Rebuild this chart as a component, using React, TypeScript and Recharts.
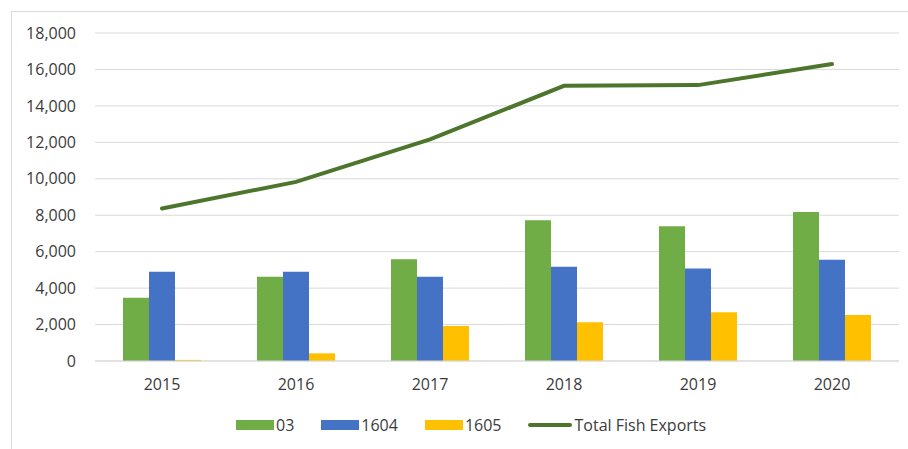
import {ComposedChart, Bar, Line, XAxis, YAxis, CartesianGrid, Legend} from 'recharts';

const years = ['2015', '2016', '2017', '2018', '2019', '2020'];
const chapter03 = [3470, 4630, 5580, 7730, 7400, 8180];
const heading1604 = [4900, 4900, 4630, 5170, 5080, 5560];
const heading1605 = [60, 420, 1920, 2120, 2670, 2520];
const totalFishExports = [8370, 9830, 12160, 15100, 15140, 16300];
const yTicks = [0, 2000, 4000, 6000, 8000, 10000, 12000, 14000, 16000, 18000];

const FONT = '"Open Sans", sans-serif';
const TEXT = '#3b3b3b';

const data = years.map((year, i) => ({
  year,
  c03: chapter03[i],
  h1604: heading1604[i],
  h1605: heading1605[i],
  total: totalFishExports[i],
}));

function LegendRow({payload}: any) {
  return (
    <div style={{display: 'flex', alignItems: 'center', paddingLeft: 236, fontFamily: FONT, fontSize: 16, color: TEXT}}>
      {(payload || []).map((entry: any) => (
        <div key={entry.value} style={{display: 'flex', alignItems: 'center', marginRight: 27}}>
          {entry.type === 'line' ? (
            <span style={{display: 'inline-block', width: 44, height: 4, borderRadius: 2, background: entry.color}} />
          ) : (
            <span style={{display: 'inline-block', width: 38, height: 10, background: entry.color}} />
          )}
          <span style={{marginLeft: 2}}>{entry.value}</span>
        </div>
      ))}
    </div>
  );
}

export default function App() {
  return (
    <div style={{position: 'fixed', left: 0, top: 0, width: 908, height: 449, background: '#fff'}}>
      <div
        style={{
          position: 'absolute',
          left: 11,
          top: 11,
          right: 0,
          bottom: 0,
          borderTop: '1px solid #d9d9d9',
          borderLeft: '1px solid #d9d9d9',
        }}
      />
      <ComposedChart
        width={908}
        height={449}
        data={data}
        margin={{top: 33, right: 9, bottom: 58, left: 0}}
        barGap={0}
        style={{position: 'absolute', left: 0, top: 0}}
      >
        <CartesianGrid vertical={false} stroke="#d9d9d9" />
        <XAxis
          dataKey="year"
          axisLine={{stroke: '#d9d9d9'}}
          tickLine={false}
          tickSize={0}
          tickMargin={18}
          height={30}
          tick={{fill: TEXT, fontSize: 16, fontFamily: FONT}}
        />
        <YAxis
          width={95}
          domain={[0, 18000]}
          ticks={yTicks}
          axisLine={false}
          tickLine={false}
          tickSize={0}
          tickMargin={19}
          tickFormatter={(v: number) => v.toLocaleString('en-US')}
          tick={{fill: TEXT, fontSize: 16, fontFamily: FONT}}
        />
        <Legend
          layout="vertical"
          align="center"
          verticalAlign="middle"
          width={908}
          wrapperStyle={{top: 414, left: 0}}
          content={<LegendRow />}
        />
        <Bar dataKey="c03" name="03" fill="#70ad47" barSize={26} isAnimationActive={false} />
        <Bar dataKey="h1604" name="1604" fill="#4472c4" barSize={26} isAnimationActive={false} />
        <Bar dataKey="h1605" name="1605" fill="#ffc000" barSize={26} isAnimationActive={false} />
        <Line
          dataKey="total"
          name="Total Fish Exports"
          type="linear"
          stroke="#4d762c"
          strokeWidth={4}
          strokeLinecap="round"
          dot={false}
          legendType="line"
          isAnimationActive={false}
        />
      </ComposedChart>
    </div>
  );
}
